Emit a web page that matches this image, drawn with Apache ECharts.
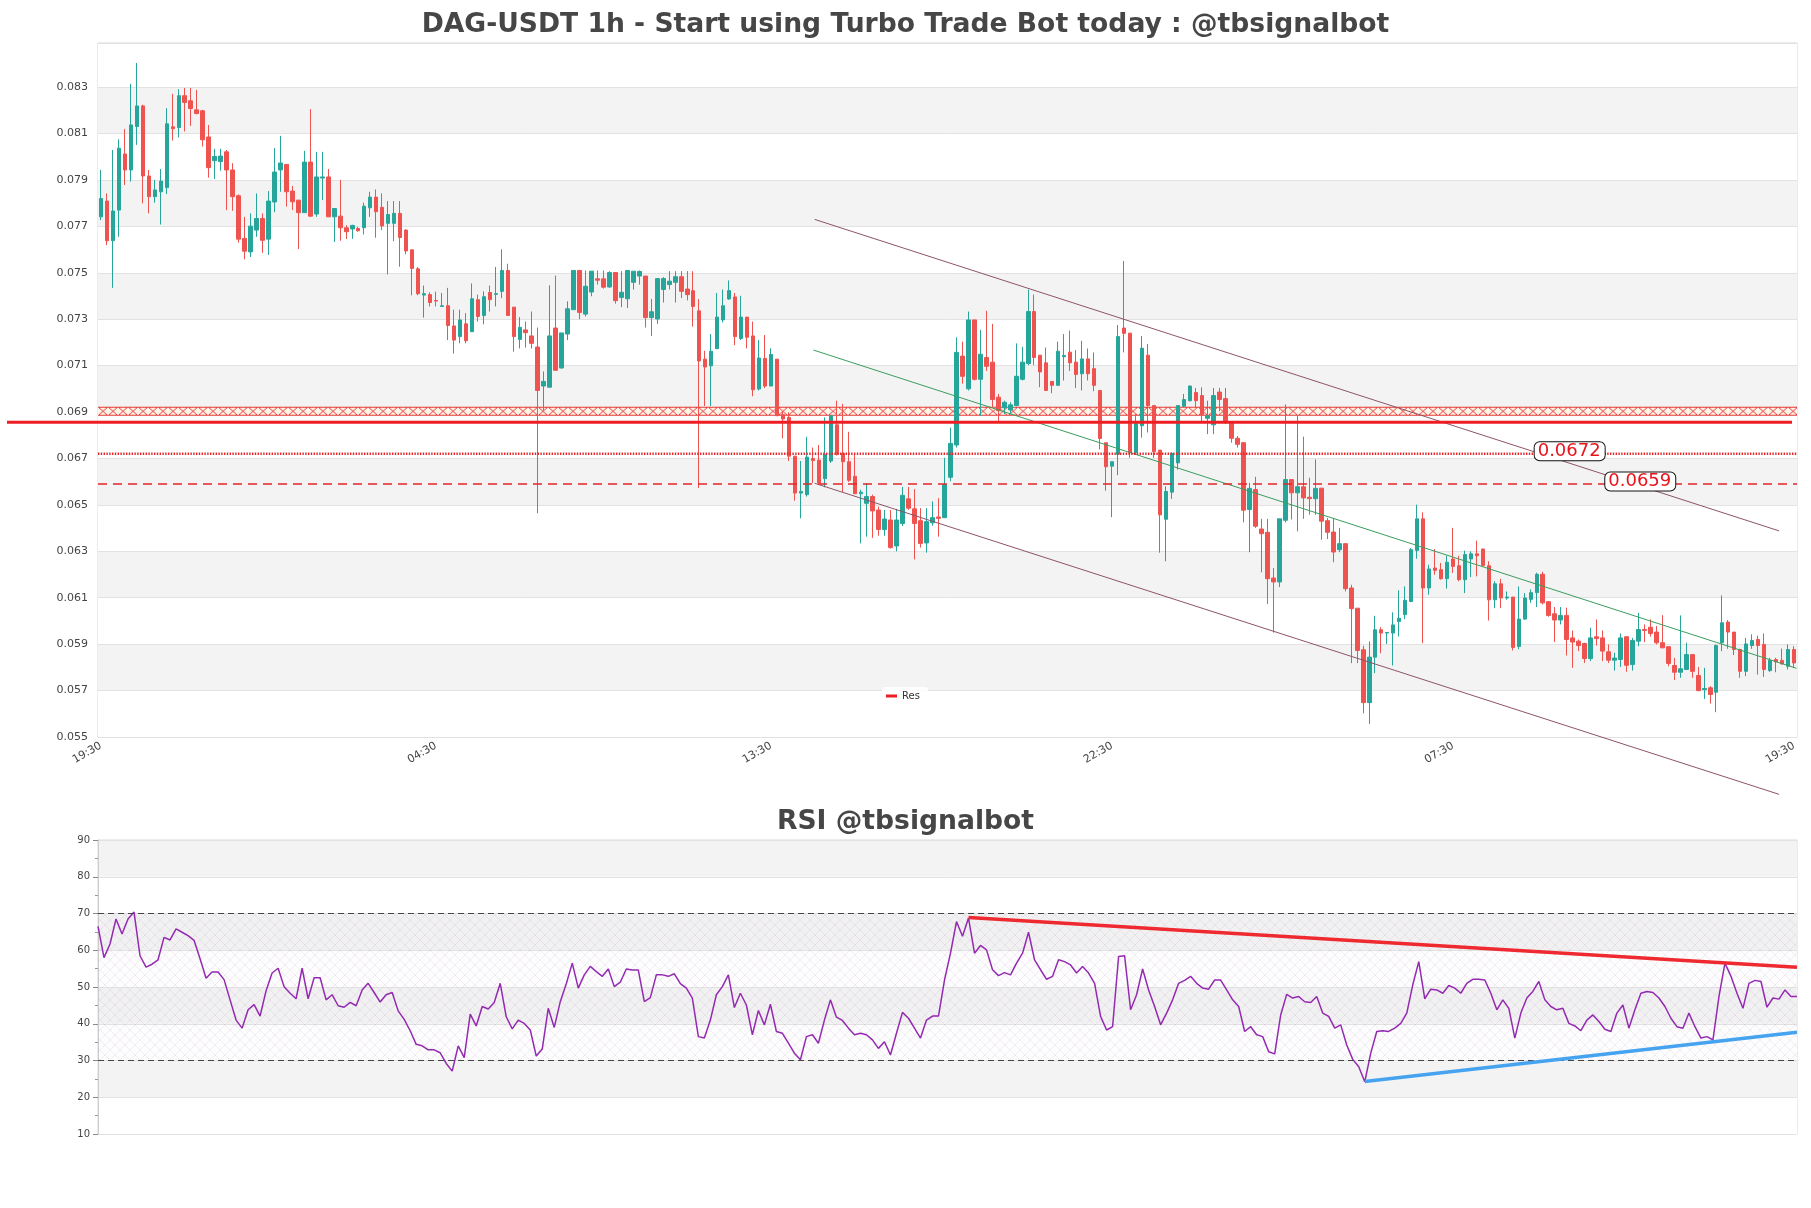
<!DOCTYPE html>
<html><head><meta charset="utf-8">
<script src="https://cdn.jsdelivr.net/npm/echarts@6/dist/echarts.min.js"></script>
<style>html,body{margin:0;padding:0;background:#fff}#c{width:1811px;height:1208px}</style>
</head><body><div id="c"></div>
<script>
// ---------- data ----------
const opens = [0.07741,0.07809,0.07638,0.07770,0.08012,0.07943,0.08130,0.08219,0.07917,0.07828,
0.07849,0.07867,0.08129,0.08126,0.08263,0.08241,0.08202,0.08198,0.08085,0.07983,
0.07979,0.08021,0.07943,0.07832,0.07648,0.07590,0.07684,0.07734,0.07645,0.07805,
0.07943,0.07967,0.07852,0.07813,0.07759,0.07977,0.07753,0.07908,0.07913,0.07741,
0.07744,0.07694,0.07689,0.07691,0.07694,0.07780,0.07826,0.07782,0.07713,0.07713,
0.07756,0.07684,0.07599,0.07517,0.07404,0.07406,0.07381,0.07355,0.07358,0.07271,
0.07225,0.07280,0.07246,0.07384,0.07316,0.07415,0.07407,0.07420,0.07510,0.07352,
0.07213,0.07254,0.07228,0.07180,0.07012,0.07007,0.07262,0.07090,0.07236,0.07341,
0.07510,0.07322,0.07417,0.07474,0.07474,0.07439,0.07501,0.07394,0.07388,0.07459,
0.07486,0.07486,0.07307,0.07301,0.07428,0.07449,0.07459,0.07483,0.07430,0.07423,
0.07336,0.07128,0.07099,0.07173,0.07297,0.07387,0.07396,0.07217,0.07309,0.07228,
0.06999,0.07131,0.07012,0.07128,0.06889,0.06877,0.06710,0.06551,0.06544,0.06700,
0.06693,0.06613,0.06689,0.06845,0.06722,0.06686,0.06623,0.06548,0.06507,0.06536,
0.06478,0.06394,0.06435,0.06323,0.06420,0.06526,0.06483,0.06432,0.06336,0.06423,
0.06448,0.06445,0.06619,0.06758,0.07141,0.07000,0.07297,0.07041,0.07135,0.07115,
0.06964,0.06918,0.06909,0.06928,0.07041,0.07109,0.07333,0.07145,0.07112,0.07032,
0.07015,0.07138,0.07158,0.07115,0.07065,0.07129,0.07087,0.06993,0.06768,0.06667,
0.06718,0.07262,0.07240,0.06725,0.06841,0.07145,0.06928,0.06736,0.06438,0.06555,
0.06681,0.06925,0.06949,0.06984,0.06971,0.06873,0.06845,0.06986,0.06958,0.06855,
0.06787,0.06768,0.06480,0.06566,0.06396,0.06382,0.06185,0.06168,0.06434,0.06609,
0.06552,0.06578,0.06533,0.06527,0.06572,0.06432,0.06383,0.06307,0.06333,0.06142,
0.06055,0.05876,0.05648,0.05844,0.05962,0.05948,0.05948,0.05998,0.06027,0.06084,
0.06304,0.06440,0.06142,0.06228,0.06221,0.06182,0.06267,0.06238,0.06178,0.06267,
0.06289,0.06310,0.06238,0.06091,0.06160,0.06099,0.06103,0.05890,0.06008,0.06093,
0.06122,0.06201,0.06083,0.06031,0.06004,0.06024,0.05927,0.05913,0.05903,0.05838,
0.05932,0.05927,0.05867,0.05831,0.05834,0.05932,0.05812,0.05913,0.05963,0.05973,
0.05952,0.05906,0.05889,0.05808,0.05779,0.05791,0.05855,0.05765,0.05704,0.05712,
0.05693,0.05906,0.05995,0.05952,0.05877,0.05783,0.05894,0.05920,0.05899,0.05786,
0.05834,0.05830,0.05805,0.05877];
const highs = [0.07943,0.07842,0.08029,0.08075,0.08119,0.08314,0.08404,0.08224,0.07943,0.07900,
0.07947,0.08209,0.08271,0.08291,0.08296,0.08296,0.08288,0.08202,0.08137,0.08034,
0.08034,0.08029,0.07972,0.07838,0.07741,0.07756,0.07842,0.07756,0.07852,0.08037,
0.08090,0.07967,0.07874,0.07813,0.08025,0.08205,0.08021,0.08021,0.07947,0.07777,
0.07900,0.07705,0.07707,0.07698,0.07802,0.07849,0.07859,0.07842,0.07809,0.07809,
0.07809,0.07688,0.07599,0.07525,0.07445,0.07416,0.07419,0.07413,0.07435,0.07341,
0.07341,0.07326,0.07454,0.07406,0.07420,0.07445,0.07525,0.07601,0.07539,0.07352,
0.07309,0.07290,0.07333,0.07264,0.07075,0.07446,0.07488,0.07241,0.07377,0.07510,
0.07510,0.07510,0.07507,0.07510,0.07510,0.07507,0.07501,0.07507,0.07510,0.07507,
0.07510,0.07486,0.07387,0.07475,0.07481,0.07507,0.07507,0.07507,0.07507,0.07507,
0.07387,0.07164,0.07236,0.07413,0.07428,0.07467,0.07413,0.07401,0.07309,0.07290,
0.07210,0.07232,0.07174,0.07128,0.06903,0.06899,0.06710,0.06689,0.06793,0.06747,
0.06758,0.06877,0.06884,0.06949,0.06935,0.06815,0.06722,0.06565,0.06594,0.06544,
0.06493,0.06478,0.06478,0.06483,0.06577,0.06577,0.06568,0.06486,0.06486,0.06515,
0.06529,0.06703,0.06833,0.07222,0.07203,0.07333,0.07297,0.07254,0.07336,0.07280,
0.06978,0.06949,0.06942,0.07196,0.07181,0.07428,0.07406,0.07145,0.07178,0.07032,
0.07203,0.07236,0.07251,0.07167,0.07207,0.07174,0.07157,0.06993,0.06768,0.06686,
0.07275,0.07551,0.07240,0.06891,0.07228,0.07193,0.06928,0.06736,0.06580,0.06725,
0.06928,0.06978,0.07015,0.07004,0.07007,0.06949,0.07004,0.07004,0.07004,0.06855,
0.06797,0.06768,0.06595,0.06621,0.06440,0.06440,0.06228,0.06440,0.06933,0.06609,
0.06886,0.06794,0.06617,0.06696,0.06573,0.06444,0.06444,0.06401,0.06333,0.06156,
0.06055,0.05893,0.05912,0.06022,0.05973,0.05950,0.06037,0.06132,0.06149,0.06314,
0.06501,0.06468,0.06242,0.06310,0.06250,0.06281,0.06401,0.06281,0.06303,0.06300,
0.06346,0.06310,0.06257,0.06171,0.06181,0.06127,0.06103,0.06149,0.06120,0.06136,
0.06208,0.06212,0.06086,0.06060,0.06060,0.06057,0.05959,0.05920,0.05906,0.05971,
0.06006,0.05959,0.05899,0.05863,0.05946,0.05932,0.05927,0.06035,0.05985,0.06007,
0.05978,0.06025,0.05889,0.05841,0.06024,0.05906,0.05855,0.05802,0.05798,0.05719,
0.05899,0.06110,0.06004,0.05952,0.05880,0.05927,0.05942,0.05937,0.05946,0.05841,
0.05841,0.05881,0.05899,0.05891];
const lows = [0.07727,0.07619,0.07435,0.07655,0.07878,0.07893,0.08051,0.07799,0.07756,0.07802,
0.07708,0.07839,0.08070,0.08083,0.08109,0.08133,0.08183,0.08044,0.07910,0.07904,
0.07940,0.07770,0.07767,0.07630,0.07558,0.07568,0.07655,0.07586,0.07577,0.07761,
0.07849,0.07785,0.07770,0.07602,0.07759,0.07741,0.07741,0.07813,0.07741,0.07633,
0.07638,0.07646,0.07646,0.07677,0.07665,0.07741,0.07651,0.07684,0.07493,0.07636,
0.07526,0.07580,0.07403,0.07403,0.07307,0.07355,0.07355,0.07355,0.07210,0.07152,
0.07196,0.07196,0.07246,0.07290,0.07278,0.07333,0.07355,0.07391,0.07316,0.07160,
0.07174,0.07178,0.07174,0.06464,0.06906,0.07007,0.07077,0.07087,0.07210,0.07341,
0.07300,0.07312,0.07399,0.07449,0.07432,0.07435,0.07367,0.07352,0.07348,0.07428,
0.07449,0.07264,0.07228,0.07280,0.07372,0.07428,0.07372,0.07391,0.07381,0.07268,
0.06573,0.06926,0.06926,0.07173,0.07286,0.07384,0.07188,0.07210,0.07174,0.06968,
0.06993,0.07003,0.07012,0.06884,0.06787,0.06689,0.06518,0.06442,0.06536,0.06594,
0.06594,0.06576,0.06681,0.06713,0.06555,0.06599,0.06548,0.06334,0.06363,0.06358,
0.06367,0.06367,0.06312,0.06300,0.06409,0.06478,0.06265,0.06316,0.06294,0.06410,
0.06363,0.06445,0.06602,0.06747,0.07022,0.06993,0.07036,0.06884,0.07077,0.06920,
0.06860,0.06891,0.06891,0.06925,0.07036,0.07102,0.07102,0.07007,0.06993,0.06981,
0.07015,0.07036,0.07077,0.07003,0.06993,0.07036,0.06990,0.06739,0.06561,0.06447,
0.06628,0.07157,0.06703,0.06715,0.06790,0.06812,0.06703,0.06294,0.06257,0.06526,
0.06652,0.06920,0.06946,0.06920,0.06860,0.06805,0.06805,0.06903,0.06848,0.06768,
0.06747,0.06425,0.06296,0.06401,0.06209,0.06073,0.05950,0.06146,0.06425,0.06437,
0.06386,0.06440,0.06458,0.06458,0.06350,0.06353,0.06253,0.06296,0.06127,0.05818,
0.05818,0.05602,0.05556,0.05775,0.05861,0.05901,0.05808,0.05933,0.06008,0.06081,
0.06268,0.05904,0.06113,0.06199,0.06178,0.06139,0.06207,0.06171,0.06120,0.06189,
0.06192,0.06238,0.06002,0.06055,0.06055,0.06091,0.05873,0.05878,0.06005,0.06078,
0.06060,0.06071,0.06018,0.05909,0.05985,0.05851,0.05798,0.05870,0.05819,0.05827,
0.05894,0.05827,0.05819,0.05786,0.05802,0.05781,0.05786,0.05891,0.05909,0.05932,
0.05899,0.05884,0.05805,0.05745,0.05755,0.05791,0.05755,0.05697,0.05664,0.05644,
0.05607,0.05870,0.05880,0.05853,0.05755,0.05762,0.05880,0.05769,0.05759,0.05781,
0.05779,0.05812,0.05791,0.05798];
const closes = [0.07820,0.07638,0.07766,0.08037,0.07943,0.08137,0.08219,0.07917,0.07828,0.07857,
0.07895,0.08142,0.08121,0.08263,0.08234,0.08208,0.08186,0.08073,0.07953,0.08001,
0.08003,0.07943,0.07828,0.07645,0.07593,0.07701,0.07734,0.07640,0.07809,0.07934,
0.07973,0.07849,0.07806,0.07759,0.07977,0.07744,0.07913,0.07913,0.07741,0.07777,
0.07694,0.07677,0.07704,0.07681,0.07787,0.07826,0.07763,0.07702,0.07751,0.07756,
0.07652,0.07594,0.07519,0.07410,0.07410,0.07372,0.07378,0.07358,0.07273,0.07210,
0.07297,0.07207,0.07388,0.07312,0.07397,0.07384,0.07410,0.07510,0.07316,0.07225,
0.07265,0.07242,0.07196,0.06993,0.07032,0.07228,0.07080,0.07241,0.07345,0.07510,
0.07329,0.07442,0.07507,0.07468,0.07438,0.07501,0.07380,0.07416,0.07510,0.07507,
0.07506,0.07307,0.07332,0.07475,0.07475,0.07464,0.07483,0.07420,0.07406,0.07355,
0.07120,0.07094,0.07162,0.07309,0.07358,0.07423,0.07225,0.07309,0.07222,0.06996,
0.07133,0.07012,0.07148,0.06884,0.06870,0.06710,0.06551,0.06558,0.06706,0.06691,
0.06594,0.06718,0.06884,0.06718,0.06686,0.06606,0.06548,0.06555,0.06536,0.06474,
0.06394,0.06439,0.06316,0.06435,0.06541,0.06486,0.06420,0.06334,0.06428,0.06445,
0.06442,0.06587,0.06765,0.07157,0.07054,0.07297,0.07041,0.07149,0.07097,0.06954,
0.06906,0.06942,0.06931,0.07054,0.07115,0.07333,0.07135,0.07073,0.06993,0.07015,
0.07162,0.07144,0.07112,0.07062,0.07129,0.07065,0.07015,0.06786,0.06664,0.06686,
0.07225,0.07239,0.06725,0.06851,0.07175,0.06928,0.06729,0.06457,0.06558,0.06722,
0.06928,0.06954,0.07012,0.06949,0.06889,0.06884,0.06971,0.06954,0.06855,0.06787,
0.06761,0.06477,0.06571,0.06408,0.06376,0.06182,0.06168,0.06440,0.06609,0.06552,
0.06578,0.06530,0.06527,0.06571,0.06430,0.06382,0.06297,0.06333,0.06139,0.06053,
0.05873,0.05648,0.05844,0.05962,0.05948,0.05950,0.05983,0.06012,0.06089,0.06307,
0.06440,0.06142,0.06224,0.06218,0.06182,0.06253,0.06235,0.06178,0.06286,0.06289,
0.06281,0.06238,0.06091,0.06160,0.06099,0.06103,0.05886,0.06008,0.06099,0.06122,
0.06201,0.06078,0.06024,0.06004,0.06024,0.05920,0.05909,0.05894,0.05838,0.05927,
0.05924,0.05870,0.05831,0.05840,0.05927,0.05809,0.05916,0.05963,0.05959,0.05946,
0.05906,0.05884,0.05817,0.05779,0.05794,0.05855,0.05783,0.05700,0.05709,0.05683,
0.05894,0.05992,0.05952,0.05877,0.05783,0.05901,0.05916,0.05894,0.05791,0.05830,
0.05824,0.05815,0.05877,0.05819];
const rsi = [66.5,58.0,61.7,68.5,64.4,68.5,70.4,58.5,55.4,56.2,
57.4,63.5,62.8,65.8,64.9,64.0,62.7,57.7,52.4,54.1,
54.1,52.0,46.5,41.0,38.8,43.8,45.2,42.1,49.0,53.8,
55.1,50.1,48.3,46.8,55.1,46.8,52.5,52.5,46.5,47.9,
44.9,44.5,45.8,44.9,49.2,51.0,48.5,45.9,47.9,48.5,
43.5,41.2,38.1,34.4,34.0,32.9,32.9,32.1,29.2,27.1,
34.0,30.8,42.6,39.4,44.7,44.0,45.8,51.0,41.9,38.6,
41.0,40.1,38.3,31.2,33.1,44.2,39.0,46.0,50.9,56.5,
49.7,53.3,55.6,54.2,52.9,54.9,50.1,51.3,54.9,54.6,
54.6,46.0,47.1,53.3,53.3,52.9,53.6,50.9,49.7,47.0,
36.5,36.1,41.0,47.9,50.1,53.3,44.4,48.3,45.1,37.0,
43.6,39.7,45.3,37.9,37.4,34.7,32.0,30.2,36.5,37.0,
34.7,41.0,46.5,41.8,40.9,38.8,37.0,37.4,37.0,35.6,
33.3,35.1,31.5,37.4,43.1,41.5,38.8,36.1,41.0,42.1,
42.1,51.9,59.2,67.8,63.8,68.75,59.2,61.3,60.1,54.7,
53.1,53.9,53.3,56.5,59.2,64.9,57.4,54.7,52.1,52.9,
57.4,56.9,56.0,53.8,55.6,53.8,51.0,42.0,38.3,39.2,
58.3,58.5,43.8,47.9,54.9,49.2,44.7,39.7,42.9,46.5,
51.0,51.8,52.9,51.0,49.7,49.4,51.9,51.9,49.2,46.5,
44.7,37.9,39.2,37.0,36.5,32.4,31.8,42.4,48.0,47.0,
47.4,46.0,45.8,47.4,42.9,42.0,38.8,39.7,34.2,30.3,
28.3,24.2,32.0,37.9,38.1,37.9,38.8,40.1,42.9,50.6,
56.9,46.8,49.4,49.2,48.3,50.4,49.7,48.3,51.0,52.1,
52.1,51.9,48.3,43.8,46.5,44.2,36.1,42.9,47.0,48.8,
51.5,46.5,44.7,43.8,44.2,40.1,39.4,38.1,41.0,42.4,
40.6,38.5,37.9,42.9,45.1,38.8,43.8,48.3,48.8,48.5,
47.0,44.7,41.5,39.2,38.8,42.9,39.2,36.1,36.5,35.6,
47.4,56.5,52.9,48.3,44.2,51.0,51.8,51.5,44.5,47.0,
46.7,49.2,47.4,47.4];
const tickIdx = [0, 56, 112, 169, 226, 283];
const tickLabels = ['19:30', '04:30', '13:30', '22:30', '07:30', '19:30'];
const resLevel = 0.06856;
const zone = [0.06884, 0.06923];
const levels = [0.0672, 0.0659];
const levelLabelAt = [245.5, 257.3];
const channelUpper = [[119.3, 0.07730], [280.5, 0.06388]];
const channelLower = [[119.3, 0.06593], [280.5, 0.05253]];
const midLine = [[119.1, 0.07167], [283.4, 0.05796]];
const rsiRes = [[145, 68.9], [283, 55.4]];
const rsiSup = [[211, 24.3], [283, 37.7]];

// ---------- build ----------
const N = opens.length;
const cats = opens.map((_, i) => String(i));
const candles = opens.map((o, i) => [o, closes[i], lows[i], highs[i]]);
const FONT = 'DejaVu Sans';

function zonePattern(h) {
  const c = document.createElement('canvas');
  const w = 10, hh = Math.max(3, Math.round(h));
  c.width = w; c.height = hh;
  const g = c.getContext('2d');
  g.fillStyle = 'rgba(255,246,232,0.85)'; g.fillRect(0, 0, w, hh);
  g.strokeStyle = '#e53935'; g.lineWidth = 1;
  g.beginPath();
  g.moveTo(0, 0.5); g.lineTo(w, 0.5);
  g.moveTo(0, hh - 0.5); g.lineTo(w, hh - 0.5);
  g.moveTo(0.5, 0.5); g.lineTo(w - 0.5, hh - 0.5);
  g.moveTo(w - 0.5, 0.5); g.lineTo(0.5, hh - 0.5);
  g.stroke();
  return c;
}
function hatchPattern() {
  const c = document.createElement('canvas');
  c.width = 10; c.height = 10;
  const g = c.getContext('2d');
  g.fillStyle = 'rgba(230,215,240,0.05)'; g.fillRect(0, 0, 10, 10);
  g.strokeStyle = 'rgba(170,140,190,0.22)'; g.lineWidth = 0.7;
  g.beginPath();
  g.moveTo(0, 0); g.lineTo(10, 10);
  g.moveTo(10, 0); g.lineTo(0, 10);
  g.stroke();
  return c;
}

const chart = echarts.init(document.getElementById('c'), null, {renderer: 'canvas'});
const option = {
  animation: false,
  backgroundColor: '#ffffff',
  textStyle: {fontFamily: FONT},
  title: [
    {text: 'DAG-USDT 1h - Start using Turbo Trade Bot today : @tbsignalbot', left: 'center', top: 12, padding: 0,
     textStyle: {fontSize: 26.6, fontWeight: 'bold', color: '#464646', fontFamily: FONT}},
    {text: 'RSI @tbsignalbot', left: 'center', top: 809, padding: 0,
     textStyle: {fontSize: 26.6, fontWeight: 'bold', color: '#464646', fontFamily: FONT}}
  ],
  legend: {
    data: [{name: 'Res', icon: 'rect'}], left: 882, top: 687, itemWidth: 11, itemHeight: 3, itemGap: 5,
    padding: [4, 8, 4, 4], backgroundColor: 'rgba(255,255,255,0.9)', borderRadius: 3, selectedMode: false,
    textStyle: {fontSize: 10, color: '#333', fontFamily: FONT}
  },
  grid: [
    {left: 98, right: 14, top: 43, height: 694, show: true, borderColor: '#d9d9d9', borderWidth: 1, backgroundColor: 'transparent'},
    {left: 98, right: 14, top: 840, height: 294, show: true, borderColor: '#d9d9d9', borderWidth: 1, backgroundColor: 'transparent'}
  ],
  xAxis: [
    {type: 'category', gridIndex: 0, data: cats, boundaryGap: true,
     axisLine: {show: false}, axisTick: {show: false}, splitLine: {show: false},
     axisLabel: {rotate: 30, fontSize: 11, color: '#444', margin: 8,
       interval: (i) => tickIdx.indexOf(i) >= 0,
       formatter: (v, i) => { const k = tickIdx.indexOf(i); return k >= 0 ? tickLabels[k] : ''; }}},
    {type: 'value', gridIndex: 0, min: -0.5, max: N - 0.5, show: false},
    {type: 'category', gridIndex: 1, data: cats, boundaryGap: false,
     axisLine: {show: false}, axisTick: {show: false}, axisLabel: {show: false}, splitLine: {show: false}}
  ],
  yAxis: [
    {type: 'value', gridIndex: 0, min: 0.055, max: 0.0849, interval: 0.002,
     axisLine: {show: false}, axisTick: {show: false},
     axisLabel: {fontSize: 11, color: '#444', margin: 10, showMaxLabel: false, formatter: (v) => v.toFixed(3)},
     splitLine: {lineStyle: {color: '#e2e2e2', width: 1}},
     splitArea: {show: true, areaStyle: {color: ['#ffffff', '#f3f3f3']}}},
    {type: 'value', gridIndex: 1, min: 10, max: 90, interval: 10,
     axisLine: {show: true, lineStyle: {color: '#cccccc'}},
     axisTick: {show: true, length: 5, lineStyle: {color: '#888'}},
     minorTick: {show: true, splitNumber: 2, length: 3, lineStyle: {color: '#999'}},
     axisLabel: {fontSize: 10, color: '#444', margin: 8},
     splitLine: {lineStyle: {color: '#e2e2e2', width: 1}},
     splitArea: {show: true, areaStyle: {color: ['#ffffff', '#f3f3f3']}}}
  ],
  series: [
    {type: 'candlestick', name: 'DAG-USDT', xAxisIndex: 0, yAxisIndex: 0, data: candles, barWidth: 4, z: 3,
     itemStyle: {color: '#26a69a', color0: '#ef5350', borderColor: '#26a69a', borderColor0: '#ef5350', borderWidth: 1}},
    {type: 'custom', name: 'zone', xAxisIndex: 1, yAxisIndex: 0, z: 2, silent: true, clip: false,
     data: [[0, zone[0], zone[1]]],
     renderItem: (params, api) => {
       const a = api.coord([-0.5, api.value(2)]);
       const b = api.coord([N - 0.5, api.value(1)]);
       const h = b[1] - a[1];
       return {type: 'rect', shape: {x: a[0], y: a[1], width: b[0] - a[0], height: h},
         style: {fill: {image: zonePattern(h), repeat: 'repeat', x: a[0], y: a[1]}}};
     }},
    {type: 'custom', name: 'Res', xAxisIndex: 1, yAxisIndex: 0, z: 6, silent: true, clip: false,
     itemStyle: {color: '#ee1d23'},
     data: [[0, resLevel]],
     renderItem: (params, api) => {
       const y = api.coord([0, api.value(1)])[1];
       const xr = api.coord([N - 0.5, 0])[0] - 5;
       return {type: 'line', shape: {x1: 7, y1: y, x2: xr, y2: y}, style: {stroke: '#ee1d23', lineWidth: 3}};
     }},
    {type: 'custom', name: 'levels', xAxisIndex: 1, yAxisIndex: 0, z: 7, silent: true, clip: false,
     data: levels.map((v, i) => [levelLabelAt[i], v]),
     renderItem: (params, api) => {
       const i = params.dataIndex;
       const v = api.value(1);
       const y = api.coord([0, v])[1];
       const x0 = api.coord([-0.5, v])[0], x1 = api.coord([N - 0.5, v])[0];
       const lx = api.coord([api.value(0), v])[0];
       return {type: 'group', children: [
         {type: 'line', z2: 1, shape: {x1: x0, y1: y, x2: x1, y2: y},
          style: {stroke: '#e3262b', lineWidth: i === 0 ? 2.5 : 1.5, lineDash: i === 0 ? [1.4, 1.4] : [9, 6]}},
         {type: 'text', z2: 5, x: lx, y: y - 2.5,
          style: {text: v.toFixed(4), fill: '#e8141c', font: '18px ' + FONT, align: 'center', verticalAlign: 'middle',
                  backgroundColor: '#ffffff', borderColor: '#111', borderWidth: 1, borderRadius: 5, padding: [0, 4, 0, 3]}}
       ]};
     }},
    {type: 'line', name: 'chUp', xAxisIndex: 1, yAxisIndex: 0, data: channelUpper, symbol: 'none', clip: false, z: 4,
     lineStyle: {color: '#8e5468', width: 1}, silent: true},
    {type: 'line', name: 'chLow', xAxisIndex: 1, yAxisIndex: 0, data: channelLower, symbol: 'none', clip: false, z: 4,
     lineStyle: {color: '#8e5468', width: 1}, silent: true},
    {type: 'line', name: 'mid', xAxisIndex: 1, yAxisIndex: 0, data: midLine, symbol: 'none', clip: false, z: 4,
     lineStyle: {color: '#3a9e5c', width: 1}, silent: true},
    {type: 'line', name: 'RSI', xAxisIndex: 2, yAxisIndex: 1, data: rsi, symbol: 'none', z: 4,
     lineStyle: {color: '#932ab0', width: 1.5}, silent: true,
     markArea: {silent: true, data: [[{yAxis: 30}, {yAxis: 70}]],
       itemStyle: {color: {image: hatchPattern(), repeat: 'repeat'}}},
     markLine: {silent: true, symbol: 'none', label: {show: false},
       lineStyle: {color: '#444', type: [6, 4], width: 1.2}, data: [{yAxis: 70}, {yAxis: 30}]}},
    {type: 'line', name: 'rsiRes', xAxisIndex: 2, yAxisIndex: 1, data: rsiRes, symbol: 'none', z: 5,
     lineStyle: {color: '#ee2a30', width: 3.5}, silent: true},
    {type: 'line', name: 'rsiSup', xAxisIndex: 2, yAxisIndex: 1, data: rsiSup, symbol: 'none', z: 5,
     lineStyle: {color: '#45a3f0', width: 3.5}, silent: true}
  ]
};
chart.setOption(option);
</script>
</body></html>
